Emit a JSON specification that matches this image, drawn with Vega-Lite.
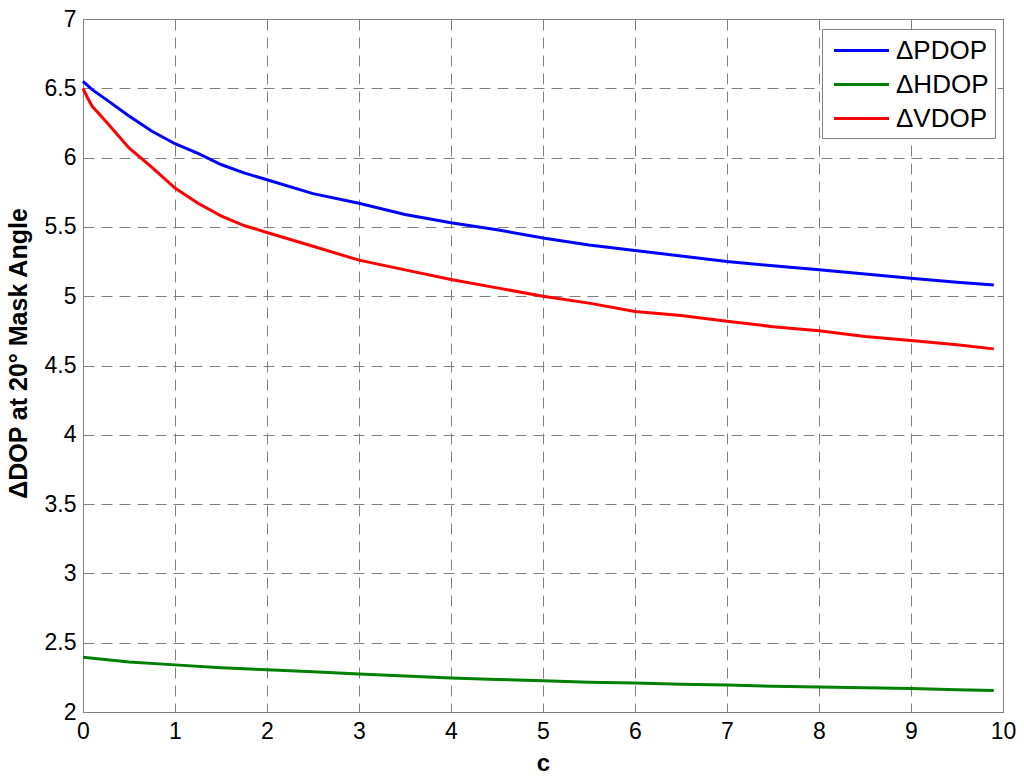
{
  "$schema": "https://vega.github.io/schema/vega-lite/v6.json",
  "width": 920,
  "height": 693,
  "autosize": {"type": "none"},
  "padding": {"left": 83, "top": 19, "right": 21, "bottom": 64},
  "background": "white",
  "config": {
    "font": "Liberation Sans",
    "view": {"stroke": "#808080", "strokeWidth": 1},
    "axis": {
      "domainColor": "#808080",
      "tickColor": "#808080",
      "labelColor": "black",
      "labelFont": "Liberation Sans",
      "labelFontSize": 23,
      "titleFont": "Liberation Sans",
      "titleFontWeight": "bold",
      "titleColor": "black",
      "gridColor": "#808080",
      "gridDash": [11, 7],
      "gridOpacity": 1,
      "gridWidth": 1
    }
  },
  "data": {
    "values": [
      {"c": 0, "v": 6.55, "s": "ΔPDOP"},
      {"c": 0.1, "v": 6.49, "s": "ΔPDOP"},
      {"c": 0.25, "v": 6.42, "s": "ΔPDOP"},
      {"c": 0.5, "v": 6.30, "s": "ΔPDOP"},
      {"c": 0.75, "v": 6.19, "s": "ΔPDOP"},
      {"c": 1, "v": 6.10, "s": "ΔPDOP"},
      {"c": 1.25, "v": 6.03, "s": "ΔPDOP"},
      {"c": 1.5, "v": 5.95, "s": "ΔPDOP"},
      {"c": 1.75, "v": 5.89, "s": "ΔPDOP"},
      {"c": 2, "v": 5.84, "s": "ΔPDOP"},
      {"c": 2.5, "v": 5.74, "s": "ΔPDOP"},
      {"c": 3, "v": 5.67, "s": "ΔPDOP"},
      {"c": 3.5, "v": 5.59, "s": "ΔPDOP"},
      {"c": 4, "v": 5.53, "s": "ΔPDOP"},
      {"c": 4.5, "v": 5.48, "s": "ΔPDOP"},
      {"c": 5, "v": 5.42, "s": "ΔPDOP"},
      {"c": 5.5, "v": 5.37, "s": "ΔPDOP"},
      {"c": 6, "v": 5.33, "s": "ΔPDOP"},
      {"c": 6.5, "v": 5.29, "s": "ΔPDOP"},
      {"c": 7, "v": 5.25, "s": "ΔPDOP"},
      {"c": 7.5, "v": 5.22, "s": "ΔPDOP"},
      {"c": 8, "v": 5.19, "s": "ΔPDOP"},
      {"c": 8.5, "v": 5.16, "s": "ΔPDOP"},
      {"c": 9, "v": 5.13, "s": "ΔPDOP"},
      {"c": 9.5, "v": 5.10, "s": "ΔPDOP"},
      {"c": 9.9, "v": 5.08, "s": "ΔPDOP"},
      {"c": 0, "v": 2.395, "s": "ΔHDOP"},
      {"c": 0.5, "v": 2.36, "s": "ΔHDOP"},
      {"c": 1, "v": 2.34, "s": "ΔHDOP"},
      {"c": 1.5, "v": 2.32, "s": "ΔHDOP"},
      {"c": 2, "v": 2.305, "s": "ΔHDOP"},
      {"c": 2.5, "v": 2.29, "s": "ΔHDOP"},
      {"c": 3, "v": 2.275, "s": "ΔHDOP"},
      {"c": 3.5, "v": 2.26, "s": "ΔHDOP"},
      {"c": 4, "v": 2.245, "s": "ΔHDOP"},
      {"c": 4.5, "v": 2.235, "s": "ΔHDOP"},
      {"c": 5, "v": 2.225, "s": "ΔHDOP"},
      {"c": 5.5, "v": 2.215, "s": "ΔHDOP"},
      {"c": 6, "v": 2.21, "s": "ΔHDOP"},
      {"c": 6.5, "v": 2.2, "s": "ΔHDOP"},
      {"c": 7, "v": 2.195, "s": "ΔHDOP"},
      {"c": 7.5, "v": 2.185, "s": "ΔHDOP"},
      {"c": 8, "v": 2.18, "s": "ΔHDOP"},
      {"c": 8.5, "v": 2.175, "s": "ΔHDOP"},
      {"c": 9, "v": 2.17, "s": "ΔHDOP"},
      {"c": 9.5, "v": 2.16, "s": "ΔHDOP"},
      {"c": 9.9, "v": 2.155, "s": "ΔHDOP"},
      {"c": 0, "v": 6.50, "s": "ΔVDOP"},
      {"c": 0.05, "v": 6.43, "s": "ΔVDOP"},
      {"c": 0.1, "v": 6.37, "s": "ΔVDOP"},
      {"c": 0.25, "v": 6.26, "s": "ΔVDOP"},
      {"c": 0.5, "v": 6.07, "s": "ΔVDOP"},
      {"c": 0.75, "v": 5.93, "s": "ΔVDOP"},
      {"c": 1, "v": 5.78, "s": "ΔVDOP"},
      {"c": 1.25, "v": 5.67, "s": "ΔVDOP"},
      {"c": 1.5, "v": 5.58, "s": "ΔVDOP"},
      {"c": 1.75, "v": 5.51, "s": "ΔVDOP"},
      {"c": 2, "v": 5.46, "s": "ΔVDOP"},
      {"c": 2.5, "v": 5.36, "s": "ΔVDOP"},
      {"c": 3, "v": 5.26, "s": "ΔVDOP"},
      {"c": 3.5, "v": 5.19, "s": "ΔVDOP"},
      {"c": 4, "v": 5.12, "s": "ΔVDOP"},
      {"c": 4.5, "v": 5.06, "s": "ΔVDOP"},
      {"c": 5, "v": 5.00, "s": "ΔVDOP"},
      {"c": 5.5, "v": 4.95, "s": "ΔVDOP"},
      {"c": 6, "v": 4.89, "s": "ΔVDOP"},
      {"c": 6.5, "v": 4.86, "s": "ΔVDOP"},
      {"c": 7, "v": 4.82, "s": "ΔVDOP"},
      {"c": 7.5, "v": 4.78, "s": "ΔVDOP"},
      {"c": 8, "v": 4.75, "s": "ΔVDOP"},
      {"c": 8.5, "v": 4.71, "s": "ΔVDOP"},
      {"c": 9, "v": 4.68, "s": "ΔVDOP"},
      {"c": 9.5, "v": 4.65, "s": "ΔVDOP"},
      {"c": 9.9, "v": 4.62, "s": "ΔVDOP"}
    ]
  },
  "layer": [
    {
      "mark": {"type": "line", "strokeWidth": 3},
      "encoding": {
        "x": {
          "field": "c",
          "type": "quantitative",
          "title": "c",
          "scale": {"domain": [0, 10], "nice": false},
          "axis": {
            "values": [0, 1, 2, 3, 4, 5, 6, 7, 8, 9, 10],
            "tickSize": -6,
            "labelPadding": 14,
            "titlePadding": 8,
            "titleFontSize": 24,
            "labelFlush": false
          }
        },
        "y": {
          "field": "v",
          "type": "quantitative",
          "title": "ΔDOP at 20° Mask Angle",
          "scale": {"domain": [2, 7], "nice": false, "zero": false},
          "axis": {
            "values": [2, 2.5, 3, 3.5, 4, 4.5, 5, 5.5, 6, 6.5, 7],
            "format": "~g",
            "tickSize": -6,
            "labelPadding": 13,
            "titlePadding": 13,
            "titleFontSize": 25,
            "titleY": 334,
            "labelFlush": false
          }
        },
        "color": {
          "field": "s",
          "type": "nominal",
          "scale": {
            "domain": ["ΔPDOP", "ΔHDOP", "ΔVDOP"],
            "range": ["#0000ff", "#008000", "#ff0000"]
          },
          "legend": {
            "title": null,
            "orient": "none",
            "legendX": 739,
            "legendY": 10,
            "symbolType": "M-2,0H2",
            "symbolSize": 756,
            "symbolStrokeWidth": 3,
            "symbolOffset": 18,
            "labelFontSize": 26,
            "labelFont": "Liberation Sans",
            "labelColor": "black",
            "labelOffset": 19,
            "rowPadding": 5,
            "padding": 6,
            "fillColor": "white",
            "strokeColor": "#808080"
          }
        }
      }
    },
    {
      "mark": {"type": "point", "opacity": 0},
      "encoding": {
        "x": {
          "field": "c",
          "type": "quantitative",
          "axis": {
            "orient": "top",
            "values": [0, 1, 2, 3, 4, 5, 6, 7, 8, 9, 10],
            "tickSize": -6,
            "labels": false,
            "grid": false,
            "title": null
          }
        },
        "y": {
          "field": "v",
          "type": "quantitative",
          "axis": {
            "orient": "right",
            "values": [2, 2.5, 3, 3.5, 4, 4.5, 5, 5.5, 6, 6.5, 7],
            "tickSize": -6,
            "labels": false,
            "grid": false,
            "title": null
          }
        }
      }
    }
  ],
  "resolve": {"axis": {"x": "independent", "y": "independent"}}
}
